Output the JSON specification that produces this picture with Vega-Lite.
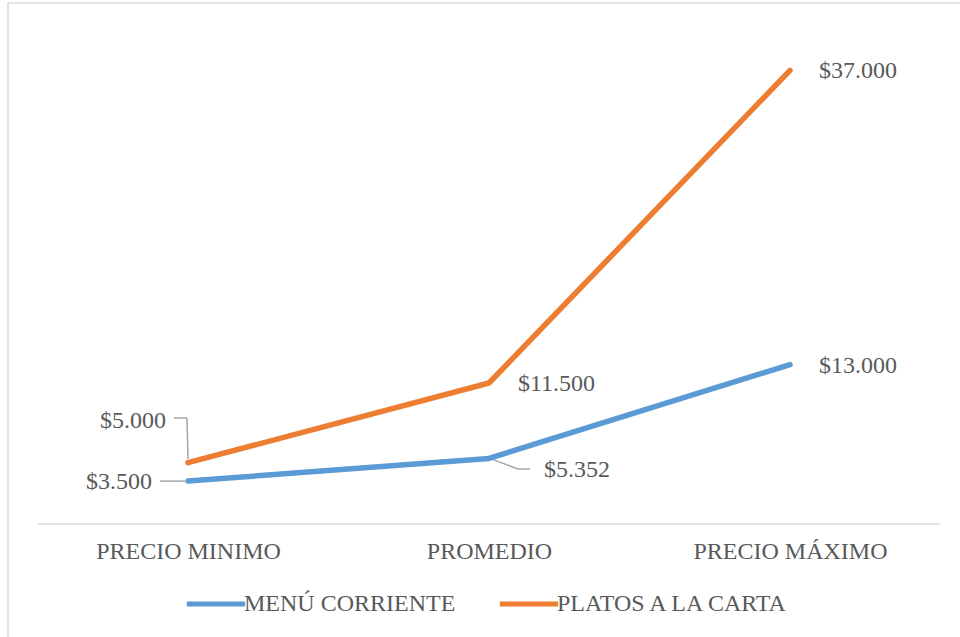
{
  "$schema": "https://vega.github.io/schema/vega-lite/v6.json",
  "autosize": "none",
  "width": 962,
  "height": 650,
  "padding": {"left": 8, "top": 3, "right": -10, "bottom": -16},
  "background": "white",
  "config": {
    "font": "Liberation Serif",
    "view": {"stroke": "#d9d9d9", "strokeWidth": 1.5},
    "axisX": {
      "domain": false, "ticks": false, "grid": false,
      "offset": -129, "labelAngle": 0, "labelFont": "Liberation Serif", "labelLimit": 0,
      "labelFontSize": 24, "labelColor": "#595959", "labelPadding": 15
    },
    "locale": {
      "number": {"decimal": ",", "thousands": ".", "grouping": [3], "currency": ["$", ""]}
    }
  },
  "data": {
    "values": [
      {"cat": "PRECIO MINIMO", "serie": "MENÚ CORRIENTE", "valor": 3500},
      {"cat": "PROMEDIO", "serie": "MENÚ CORRIENTE", "valor": 5352},
      {"cat": "PRECIO MÁXIMO", "serie": "MENÚ CORRIENTE", "valor": 13000},
      {"cat": "PRECIO MINIMO", "serie": "PLATOS A LA CARTA", "valor": 5000},
      {"cat": "PROMEDIO", "serie": "PLATOS A LA CARTA", "valor": 11500},
      {"cat": "PRECIO MÁXIMO", "serie": "PLATOS A LA CARTA", "valor": 37000}
    ]
  },
  "layer": [
    {
      "data": {"values": [{"a": 1}]},
      "mark": {"type": "rule", "color": "#d9d9d9", "strokeWidth": 1.5, "xOffset": -150, "x2Offset": 150},
      "encoding": {
        "x": {"datum": "PRECIO MINIMO", "type": "nominal", "axis": {"title": null}},
        "x2": {"datum": "PRECIO MÁXIMO"},
        "y": {"datum": 0, "type": "quantitative", "axis": null}
      }
    },
    {
      "data": {"values": [{"a": 1}]},
      "mark": {"type": "rule", "color": "#a6a6a6", "strokeWidth": 1.5, "xOffset": -28, "x2Offset": -3},
      "encoding": {
        "x": {"datum": "PRECIO MINIMO", "type": "nominal", "axis": {"title": null}},
        "x2": {"datum": "PRECIO MINIMO"},
        "y": {"datum": 3500, "type": "quantitative", "axis": null}
      }
    },
    {
      "data": {"values": [{"a": 1}]},
      "mark": {"type": "rule", "color": "#a6a6a6", "strokeWidth": 1.5, "xOffset": -14, "x2Offset": -1},
      "encoding": {
        "x": {"datum": "PRECIO MINIMO", "type": "nominal", "axis": {"title": null}},
        "x2": {"datum": "PRECIO MINIMO"},
        "y": {"datum": 8646, "type": "quantitative", "axis": null}
      }
    },
    {
      "data": {"values": [{"a": 1}]},
      "mark": {"type": "rule", "color": "#a6a6a6", "strokeWidth": 1.5, "xOffset": -1, "x2Offset": 0},
      "encoding": {
        "x": {"datum": "PRECIO MINIMO", "type": "nominal", "axis": {"title": null}},
        "x2": {"datum": "PRECIO MINIMO"},
        "y": {"datum": 8646, "type": "quantitative", "axis": null},
        "y2": {"datum": 5300}
      }
    },
    {
      "data": {"values": [{"a": 1}]},
      "mark": {"type": "rule", "color": "#a6a6a6", "strokeWidth": 1.5, "xOffset": 1, "x2Offset": 29},
      "encoding": {
        "x": {"datum": "PROMEDIO", "type": "nominal", "axis": {"title": null}},
        "x2": {"datum": "PROMEDIO"},
        "y": {"datum": 5352, "type": "quantitative", "axis": null},
        "y2": {"datum": 4486}
      }
    },
    {
      "data": {"values": [{"a": 1}]},
      "mark": {"type": "rule", "color": "#a6a6a6", "strokeWidth": 1.5, "xOffset": 29, "x2Offset": 41},
      "encoding": {
        "x": {"datum": "PROMEDIO", "type": "nominal", "axis": {"title": null}},
        "x2": {"datum": "PROMEDIO"},
        "y": {"datum": 4486, "type": "quantitative", "axis": null}
      }
    },
    {
      "mark": {"type": "line", "strokeWidth": 5.5, "strokeCap": "round", "strokeJoin": "round"},
      "encoding": {
        "x": {
          "field": "cat", "type": "nominal",
          "scale": {"type": "point", "domain": ["PRECIO MINIMO", "PROMEDIO", "PRECIO MÁXIMO"], "padding": 0.598},
          "axis": {"title": null}
        },
        "y": {
          "field": "valor", "type": "quantitative",
          "scale": {"domain": [-10522, 42496], "nice": false, "zero": false},
          "axis": null
        },
        "color": {
          "field": "serie", "type": "nominal",
          "scale": {"domain": ["MENÚ CORRIENTE", "PLATOS A LA CARTA"], "range": ["#5B9BD5", "#ED7D31"]},
          "legend": {
            "title": null, "orient": "none", "legendX": 176, "legendY": 569,
            "direction": "horizontal", "symbolType": "stroke", "symbolSize": 3400,
            "symbolStrokeWidth": 5, "labelFont": "Liberation Serif", "labelFontSize": 24,
            "labelColor": "#595959", "labelOffset": -4, "columnPadding": 33, "padding": 0, "labelLimit": 0
          }
        }
      }
    },
    {
      "transform": [{"filter": "datum.cat != 'PRECIO MINIMO' && !(datum.cat == 'PROMEDIO' && datum.serie == 'MENÚ CORRIENTE')"}],
      "mark": {"type": "text", "align": "left", "baseline": "middle", "dx": 29, "dy": 1, "fontSize": 24, "color": "#595959", "font": "Liberation Serif"},
      "encoding": {
        "x": {"field": "cat", "type": "nominal", "axis": {"title": null}},
        "y": {"field": "valor", "type": "quantitative", "axis": null},
        "text": {"field": "valor", "type": "quantitative", "format": "$,.0f"}
      }
    },
    {
      "transform": [{"filter": "datum.cat == 'PROMEDIO' && datum.serie == 'MENÚ CORRIENTE'"}],
      "mark": {"type": "text", "align": "left", "baseline": "middle", "dx": 55, "dy": 12, "fontSize": 24, "color": "#595959", "font": "Liberation Serif"},
      "encoding": {
        "x": {"field": "cat", "type": "nominal", "axis": {"title": null}},
        "y": {"field": "valor", "type": "quantitative", "axis": null},
        "text": {"field": "valor", "type": "quantitative", "format": "$,.0f"}
      }
    },
    {
      "transform": [{"filter": "datum.cat == 'PRECIO MINIMO' && datum.serie == 'MENÚ CORRIENTE'"}],
      "mark": {"type": "text", "align": "right", "baseline": "middle", "dx": -36, "dy": 1, "fontSize": 24, "color": "#595959", "font": "Liberation Serif"},
      "encoding": {
        "x": {"field": "cat", "type": "nominal", "axis": {"title": null}},
        "y": {"field": "valor", "type": "quantitative", "axis": null},
        "text": {"field": "valor", "type": "quantitative", "format": "$,.0f"}
      }
    },
    {
      "transform": [{"filter": "datum.cat == 'PRECIO MINIMO' && datum.serie == 'PLATOS A LA CARTA'"}],
      "mark": {"type": "text", "align": "right", "baseline": "middle", "dx": -22, "dy": -42, "fontSize": 24, "color": "#595959", "font": "Liberation Serif"},
      "encoding": {
        "x": {"field": "cat", "type": "nominal", "axis": {"title": null}},
        "y": {"field": "valor", "type": "quantitative", "axis": null},
        "text": {"field": "valor", "type": "quantitative", "format": "$,.0f"}
      }
    }
  ]
}
